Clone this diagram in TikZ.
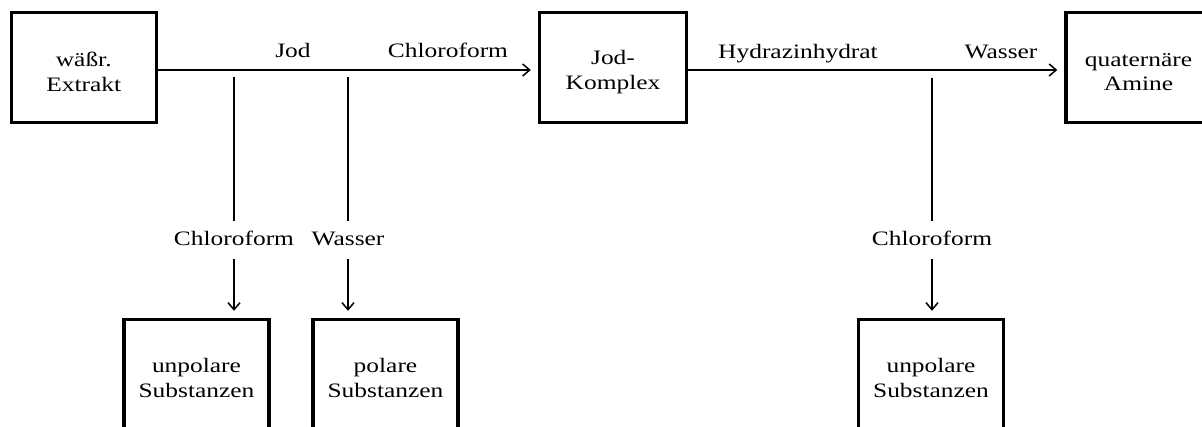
\documentclass[tikz,border=0pt]{standalone}
\usepackage{fontspec}
\setmainfont{Liberation Serif}[FakeStretch=1.24]
\usetikzlibrary{arrows.meta}
\begin{document}
\begin{tikzpicture}[x=1pt,y=-1pt,
  box/.style={draw, line width=3.4pt, minimum width=145pt, minimum height=110pt, inner sep=0pt},
  boxtext/.style={font=\fontsize{20.5}{24.5}\selectfont, align=center, inner sep=0pt},
  lbl/.style={font=\fontsize{20.5}{24.5}\selectfont, inner xsep=2pt, inner ysep=10pt, text height=14pt, text depth=4pt},
  conn/.style={line width=1.5pt},
  arr/.style={conn, -{Straight Barb[length=7pt,width=12pt]}, shorten >=7pt}]
\useasboundingbox (0,0) rectangle (1202,426);
\clip (0,0) rectangle (1202,426);
% boxes
\node[box] (ex) at (83.75,67.5) {};
\node[box, minimum width=147pt] (jk) at (613,67.5) {};
\node[box] (qa) at (1138.5,67.5) {};
\node[box] (up1) at (196.5,374.5) {};
\node[box] (pol) at (385.5,374.5) {};
\node[box] (up2) at (931,374.5) {};
% box texts
\node[boxtext] (tex) at ([yshift=-4.5pt]ex.center) {wäßr.\\Extrakt};
\node[boxtext] (tjk) at ([yshift=-4.5pt]jk.center) {Jod-\\Komplex};
\node[boxtext] (tqa) at ([yshift=-4.5pt]qa.center) {quaternäre\\Amine};
\node[boxtext] (tup1) at ([yshift=-3.5pt]up1.center) {unpolare\\Substanzen};
\node[boxtext] (tpol) at ([yshift=-3.5pt]pol.center) {polare\\Substanzen};
\node[boxtext] (tup2) at ([yshift=-3.5pt]up2.center) {unpolare\\Substanzen};
% labels on the main line
\node[lbl, anchor=base] (ljod) at (293,57) {Jod};
\node[lbl, anchor=base] (lchl) at (448,57) {Chloroform};
\node[lbl, anchor=base] (lhyd) at (798,58) {Hydrazinhydrat};
\node[lbl, anchor=base] (lwas) at (1001,58) {Wasser};
% main arrows
\draw[arr] (ex.east |- 0,70) -- (jk.west |- 0,70);
\draw[arr] (jk.east |- 0,70) -- (qa.west |- 0,70);
% branch starts
\coordinate (s1) at (234,77);
\coordinate (s2) at (348,77);
\coordinate (s3) at (932,78);
% branch labels
\node[lbl, anchor=base] (bc1) at (s1 |- 0,245) {Chloroform};
\node[lbl, anchor=base] (bw) at (s2 |- 0,245) {Wasser};
\node[lbl, anchor=base] (bc2) at (s3 |- 0,245) {Chloroform};
% branches
\draw[conn] (s1) -- (s1 |- bc1.north);
\draw[conn] (s2) -- (s2 |- bw.north);
\draw[conn] (s3) -- (s3 |- bc2.north);
\draw[arr] (s1 |- bc1.south) -- (s1 |- up1.north);
\draw[arr] (s2 |- bw.south) -- (s2 |- pol.north);
\draw[arr] (s3 |- bc2.south) -- (s3 |- up2.north);
\end{tikzpicture}
\end{document}
